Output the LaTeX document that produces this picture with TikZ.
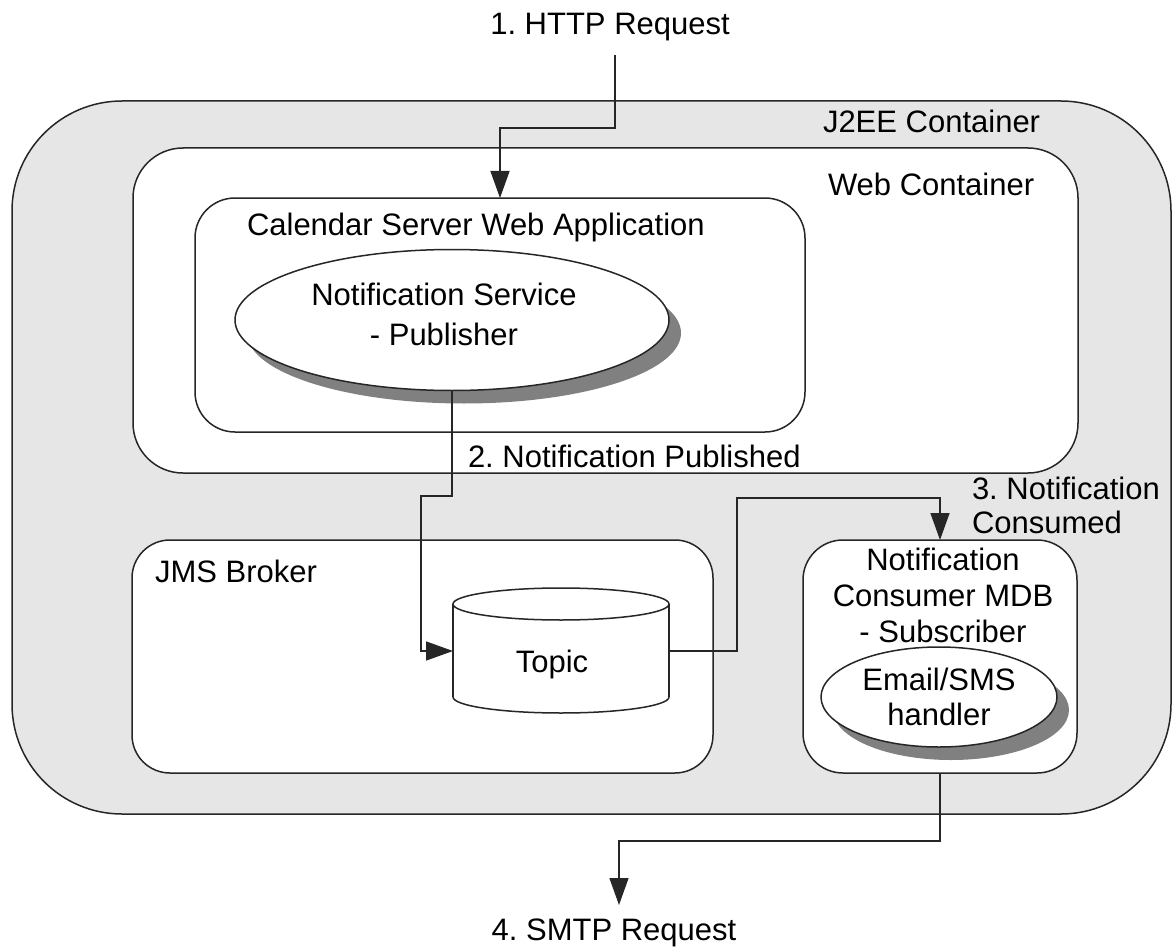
\documentclass[tikz,border=0pt]{standalone}
\usepackage{fontspec}
\setmainfont{Liberation Sans}
\usetikzlibrary{arrows.meta,shadows,shapes.geometric}
\definecolor{jgray}{HTML}{E6E6E6}
\definecolor{shadowgray}{HTML}{808080}
\definecolor{linecol}{HTML}{262626}
\frenchspacing
\begin{document}
\begin{tikzpicture}[x=1pt,y=-1pt,
  every node/.style={font=\fontsize{31}{36}\selectfont, inner sep=0pt, outer sep=0pt, text=black},
  box/.style={draw=linecol, line width=1.5pt, fill=white, rounded corners=#1},
  box/.default=40,
  oval/.style={ellipse, draw=linecol, line width=1.5pt, fill=white,
     drop shadow={shadow xshift=12pt, shadow yshift=-13pt, fill=shadowgray, opacity=1}},
  conn/.style={draw=linecol, line width=1.4pt, -{Triangle[length=27pt,width=19pt]}},
  cyl/.style={draw=linecol, line width=1.5pt}
]
\useasboundingbox (0,0) rectangle (1173,947);

% containers
\node[box=110, fill=jgray, minimum width=1159, minimum height=713] (j2ee) at (591.5,457.5) {};
\node[anchor=base west] (j2eelabel) at (823,133) {J2EE Container};

\node[box=50, minimum width=945, minimum height=325] (web) at (605.5,310.5) {};
\node[anchor=base west] (weblabel) at (828,195) {Web Container};

\node[box=40, minimum width=610, minimum height=234] (cal) at (500,315) {};
\node[anchor=base west] (callabel) at (247,235) {Calendar Server Web Application};

\node[oval, minimum width=434, minimum height=141] (notif) at (452,320) {};
\node[align=center, font=\fontsize{31}{40}\selectfont] (notiflabel) at (444,314) {Notification Service\\- Publisher};

\node[box=38, minimum width=581, minimum height=233] (jms) at (422.5,656.5) {};
\node[anchor=base west] (jmslabel) at (155,582) {JMS Broker};

% topic cylinder
\node[minimum width=216, minimum height=125] (topic) at (561,651) {};
\fill[white] (453,604) rectangle (669,697);
\fill[white] (453,697) .. controls (453,705.8) and (501.4,713) .. (561,713)
                      .. controls (620.6,713) and (669,705.8) .. (669,697) -- cycle;
\draw[cyl] (453,697) .. controls (453,705.8) and (501.4,713) .. (561,713)
                      .. controls (620.6,713) and (669,705.8) .. (669,697);
\draw[cyl] (453,604) -- (453,697);
\draw[cyl] (669,604) -- (669,697);
\draw[cyl, fill=white] (561,604) ellipse [x radius=108, y radius=16];
\node[anchor=base] (topiclabel) at (552,672) {Topic};

% consumer
\node[box=40, minimum width=274, minimum height=233] (cons) at (940,656.5) {};
\node[align=center] (conslabel) at (943,595) {Notification\\Consumer MDB\\- Subscriber};
\node[oval, minimum width=236, minimum height=100, align=center,
      font=\fontsize{31}{35}\selectfont] (email) at (939,697) {Email/SMS\\handler};

% labels
\node[anchor=base] (httplabel) at (610,35) {1. HTTP Request};
\node[anchor=base west] (publabel) at (468,467) {2. Notification Published};
\node[anchor=west, align=left, font=\fontsize{31}{34}\selectfont] (consumedlabel) at (972,505) {3. Notification\\Consumed};
\node[anchor=base] (smtplabel) at (614,940) {4. SMTP Request};

% connectors
\coordinate (httpstart) at (615,55);
\coordinate (smtpend) at (619,905);
\draw[conn] (httpstart) -- (615,128) -| (cal.north);
\draw[conn] (notif.south) |- (421,496) |- (topic.west);
\draw[conn] (topic.east) -| (737,498) -| (cons.north);
\draw[conn] (cons.south) |- (619,841) -- (smtpend);
\end{tikzpicture}
\end{document}
